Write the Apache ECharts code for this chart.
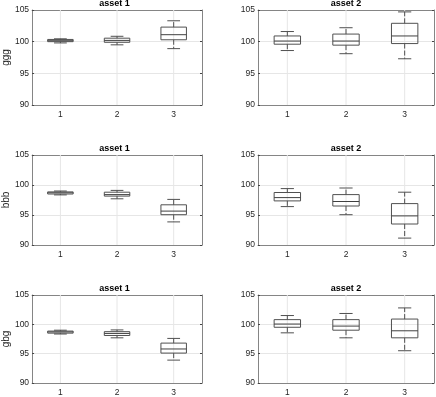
<!DOCTYPE html>
<html><head><meta charset="utf-8">
<script src="https://cdn.jsdelivr.net/npm/echarts@6/dist/echarts.min.js"></script>
<style>html,body{margin:0;padding:0;background:#fff}#c{width:436px;height:397px}</style>
</head><body><div id="c"></div>
<script>
// ---- data ----
const categories = ['1', '2', '3'];
const panelTitles = ['asset 1', 'asset 2'];
const rowNames = ['ggg', 'bbb', 'gbg'];
const yMin = 90, yMax = 105, yStep = 5;
// each box: [min, q1, median, q3, max]
const ggg_asset1 = [[99.8, 100.0, 100.15, 100.35, 100.45], [99.5, 99.9, 100.2, 100.55, 100.85], [98.9, 100.3, 101.1, 102.3, 103.3]];
const ggg_asset2 = [[98.6, 99.6, 100.1, 100.9, 101.6], [98.1, 99.45, 100.1, 101.2, 102.2], [97.3, 99.7, 100.9, 102.9, 104.7]];
const bbb_asset1 = [[98.35, 98.5, 98.7, 98.85, 99.0], [97.7, 98.15, 98.4, 98.8, 99.1], [93.85, 95.05, 95.65, 96.7, 97.6]];
const bbb_asset2 = [[96.4, 97.35, 97.9, 98.75, 99.4], [95.05, 96.5, 97.25, 98.4, 99.5], [91.15, 93.5, 94.85, 96.9, 98.8]];
const gbg_asset1 = [[98.35, 98.5, 98.7, 98.85, 99.0], [97.7, 98.1, 98.45, 98.75, 99.05], [93.9, 95.1, 95.8, 96.8, 97.6]];
const gbg_asset2 = [[98.55, 99.5, 100.05, 100.8, 101.5], [97.7, 99.0, 99.7, 100.8, 101.85], [95.5, 97.7, 98.9, 100.9, 102.8]];
const panelData = [ggg_asset1, ggg_asset2, bbb_asset1, bbb_asset2, gbg_asset1, gbg_asset2];

// ---- layout ----
const gridRects = [
  {left: 27, top: 10, width: 175, height: 95},
  {left: 258, top: 10, width: 176, height: 95},
  {left: 27, top: 155, width: 175, height: 90},
  {left: 258, top: 155, width: 176, height: 90},
  {left: 27, top: 295, width: 175, height: 90},
  {left: 258, top: 295, width: 176, height: 90}
];
const FONT = '"Liberation Sans", Arial, Helvetica, sans-serif';
const frameColor = '#858585';
const gridColor = '#e6e6e6';
const boxColor = '#505050';
const textColor = '#262626';

const grid = [], xAxis = [], yAxis = [], series = [], title = [];
gridRects.forEach((r, i) => {
  grid.push(Object.assign({containLabel: false}, r));
  const col = i % 2, row = Math.floor(i / 2);
  title.push({
    text: panelTitles[col], left: r.left + r.width / 2, top: r.top - 11, textAlign: 'center', padding: 0,
    textStyle: {fontFamily: FONT, fontSize: 9, fontWeight: 'bold', color: '#000'}
  });
  // bottom x
  xAxis.push({
    gridIndex: i, type: 'category', data: categories, boundaryGap: true, position: 'bottom',
    axisLine: {lineStyle: {color: frameColor, width: 1}},
    axisTick: {inside: true, alignWithLabel: true, length: 2, lineStyle: {color: '#444'}},
    axisLabel: {fontFamily: FONT, fontSize: 8.5, color: textColor, margin: 5},
    splitLine: {show: false}
  });
  // top x (frame)
  xAxis.push({
    gridIndex: i, type: 'category', data: categories, boundaryGap: true, position: 'top',
    axisLine: {lineStyle: {color: frameColor, width: 1}},
    axisTick: {inside: true, alignWithLabel: true, length: 2, lineStyle: {color: '#444'}},
    axisLabel: {show: false}, splitLine: {show: false}
  });
  yAxis.push({
    gridIndex: i, type: 'value', min: yMin, max: yMax, interval: yStep, position: 'left',
    name: col === 0 ? rowNames[row] : '', nameLocation: 'middle', nameGap: 16,
    nameTextStyle: {fontFamily: FONT, fontSize: 10, color: textColor},
    axisLine: {show: true, lineStyle: {color: frameColor, width: 1}},
    axisTick: {show: true, inside: true, length: 2, lineStyle: {color: '#444'}},
    axisLabel: {fontFamily: FONT, fontSize: 8.5, color: textColor, margin: 3},
    splitLine: {show: true, lineStyle: {color: gridColor, width: 1}}
  });
  yAxis.push({
    gridIndex: i, type: 'value', min: yMin, max: yMax, interval: yStep, position: 'right',
    axisLine: {show: true, lineStyle: {color: frameColor, width: 1}},
    axisTick: {show: true, inside: true, length: 2, lineStyle: {color: '#444'}},
    axisLabel: {show: false}, splitLine: {show: false}
  });
  const xi = i * 2, yi = i * 2;
  // vertical grid lines at category centres
  series.push({
    type: 'custom', xAxisIndex: xi, yAxisIndex: yi, z: 1, silent: true,
    data: categories.map((c, k) => [k]),
    renderItem: function (params, api) {
      const p0 = api.coord([api.value(0), yMin]);
      const p1 = api.coord([api.value(0), yMax]);
      return {type: 'line', shape: {x1: p0[0], y1: p0[1], x2: p1[0], y2: p1[1]},
        style: {stroke: gridColor, lineWidth: 1}};
    }
  });
  // boxes
  series.push({
    type: 'custom', xAxisIndex: xi, yAxisIndex: yi, z: 3, silent: true,
    data: panelData[i].map((b, k) => [k].concat(b)),
    encode: {x: 0, y: [1, 2, 3, 4, 5]},
    renderItem: function (params, api) {
      const x = api.value(0);
      const pMin = api.coord([x, api.value(1)]);
      const pQ1 = api.coord([x, api.value(2)]);
      const pMed = api.coord([x, api.value(3)]);
      const pQ3 = api.coord([x, api.value(4)]);
      const pMax = api.coord([x, api.value(5)]);
      const w = api.size([1, 0])[0] * 0.45;
      const cx = pMed[0];
      const st = {stroke: boxColor, lineWidth: 1, fill: null};
      const dash = {stroke: boxColor, lineWidth: 1, lineDash: [5, 2]};
      return {type: 'group', children: [
        {type: 'line', shape: {x1: cx, y1: pQ3[1], x2: cx, y2: pMax[1]}, style: dash},
        {type: 'line', shape: {x1: cx, y1: pQ1[1], x2: cx, y2: pMin[1]}, style: dash},
        {type: 'line', shape: {x1: cx - w / 4, y1: pMax[1], x2: cx + w / 4, y2: pMax[1]}, style: st},
        {type: 'line', shape: {x1: cx - w / 4, y1: pMin[1], x2: cx + w / 4, y2: pMin[1]}, style: st},
        {type: 'rect', shape: {x: cx - w / 2, y: pQ3[1], width: w, height: pQ1[1] - pQ3[1]}, style: st},
        {type: 'line', shape: {x1: cx - w / 2, y1: pMed[1], x2: cx + w / 2, y2: pMed[1]}, style: {stroke: '#404040', lineWidth: 1}}
      ]};
    }
  });
});

const chart = echarts.init(document.getElementById('c'), null, {renderer: 'canvas'});
chart.setOption({animation: false, backgroundColor: '#fff', title, grid, xAxis, yAxis, series});
</script></body></html>
